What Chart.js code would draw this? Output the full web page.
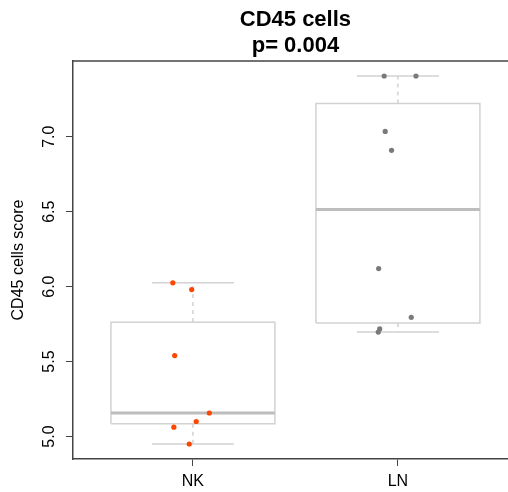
<!DOCTYPE html>
<html>
<head>
<meta charset="utf-8">
<script src="https://cdn.jsdelivr.net/npm/chart.js@4/dist/chart.umd.min.js"></script>
<style>
  html, body { margin: 0; padding: 0; background: #fff; overflow: hidden; }
  #wrap { width: 508px; height: 492px; }
</style>
</head>
<body>
<div id="wrap"><canvas id="chart"></canvas></div>
<script>
const titleLines = ["CD45 cells", "p= 0.004"];
const yLabel = "CD45 cells score";
const categories = ["NK", "LN"];
const catPos = [1, 2];
const yTicks = [5.0, 5.5, 6.0, 6.5, 7.0];

// box statistics per group
const whiskerLow = [4.95, 5.697];
const q1 = [5.085, 5.757];
const median = [5.157, 6.515];
const q3 = [5.763, 7.222];
const whiskerHigh = [6.025, 7.405];

// jittered points
const nkX = [0.902, 0.994, 0.911, 1.080, 1.016, 0.907, 0.982];
const nkY = [6.025, 5.98, 5.54, 5.157, 5.10, 5.062, 4.95];
const lnX = [1.933, 2.088, 1.938, 1.969, 1.906, 2.065, 1.911, 1.904];
const lnY = [7.405, 7.405, 7.035, 6.909, 6.12, 5.795, 5.718, 5.697];

const boxHalf = 0.4;
const capHalf = 0.2;
const boxColor = "#d2d2d2";
const medianColor = "#bdbdbd";
const axisColor = "#444444";
const fontFamily = "'Liberation Sans', Arial, Helvetica, sans-serif";

const datasets = [];

datasets.push({
  label: categories[0],
  data: nkX.map(function (x, i) { return { x: x, y: nkY[i] }; }),
  backgroundColor: "#ff4500",
  borderWidth: 0,
  pointRadius: 2.6,
  order: 0
});
datasets.push({
  label: categories[1],
  data: lnX.map(function (x, i) { return { x: x, y: lnY[i] }; }),
  backgroundColor: "#7a7a7a",
  borderWidth: 0,
  pointRadius: 2.6,
  order: 0
});

catPos.forEach(function (c, i) {
  const lineBase = { showLine: true, pointRadius: 0, fill: false, order: 2 };
  datasets.push(Object.assign({}, lineBase, {
    label: "box",
    data: [
      { x: c - boxHalf, y: q1[i] }, { x: c + boxHalf, y: q1[i] },
      { x: c + boxHalf, y: q3[i] }, { x: c - boxHalf, y: q3[i] },
      { x: c - boxHalf, y: q1[i] }
    ],
    borderColor: boxColor,
    borderWidth: 1.5
  }));
  datasets.push(Object.assign({}, lineBase, {
    label: "median",
    data: [{ x: c - boxHalf, y: median[i] }, { x: c + boxHalf, y: median[i] }],
    borderColor: medianColor,
    borderWidth: 3,
    order: 1
  }));
  datasets.push(Object.assign({}, lineBase, {
    label: "upper whisker",
    data: [{ x: c, y: q3[i] }, { x: c, y: whiskerHigh[i] }],
    borderColor: boxColor,
    borderWidth: 1.5,
    borderDash: [4, 4]
  }));
  datasets.push(Object.assign({}, lineBase, {
    label: "lower whisker",
    data: [{ x: c, y: q1[i] }, { x: c, y: whiskerLow[i] }],
    borderColor: boxColor,
    borderWidth: 1.5,
    borderDash: [4, 4]
  }));
  datasets.push(Object.assign({}, lineBase, {
    label: "caps",
    data: [{ x: c - capHalf, y: whiskerHigh[i] }, { x: c + capHalf, y: whiskerHigh[i] }],
    borderColor: boxColor,
    borderWidth: 1.5
  }));
  datasets.push(Object.assign({}, lineBase, {
    label: "caps",
    data: [{ x: c - capHalf, y: whiskerLow[i] }, { x: c + capHalf, y: whiskerLow[i] }],
    borderColor: boxColor,
    borderWidth: 1.5
  }));
});

const framePlugin = {
  id: "frame",
  afterDraw: function (chart) {
    const ctx = chart.ctx;
    const area = chart.chartArea;
    const xScale = chart.scales.x;
    ctx.save();
    ctx.strokeStyle = axisColor;
    ctx.lineWidth = 1.5;
    ctx.beginPath();
    ctx.moveTo(area.left, area.top);
    ctx.lineTo(area.right, area.top);
    ctx.stroke();
    ctx.fillStyle = "#000";
    ctx.font = "bold 22px " + fontFamily;
    ctx.textAlign = "center";
    ctx.textBaseline = "alphabetic";
    const cx = xScale.getPixelForValue(1.5);
    ctx.fillText(titleLines[0], cx, 26);
    ctx.fillText(titleLines[1], cx, 52);
    ctx.restore();
  }
};

new Chart(document.getElementById("chart"), {
  type: "scatter",
  data: { datasets: datasets },
  plugins: [framePlugin],
  options: {
    responsive: true,
    maintainAspectRatio: false,
    animation: false,
    layout: { autoPadding: false, padding: { top: 61, left: 0, right: 0, bottom: 0 } },
    plugins: {
      legend: { display: false },
      tooltip: { enabled: false }
    },
    scales: {
      x: {
        type: "linear",
        min: 0.415,
        max: 2.537,
        afterBuildTicks: function (scale) {
          scale.ticks = catPos.map(function (v) { return { value: v }; });
        },
        afterFit: function (scale) {
          scale.height = 33;
          scale.paddingLeft = 0;
          scale.paddingRight = 0;
        },
        grid: { display: true, drawOnChartArea: false, drawTicks: true, tickLength: 7, color: axisColor, lineWidth: 1 },
        border: { display: true, color: axisColor, width: 1.5 },
        ticks: {
          autoSkip: false,
          maxRotation: 0,
          padding: 6,
          color: "#000",
          font: { family: fontFamily, size: 16 },
          callback: function (value) {
            const i = catPos.indexOf(value);
            return i >= 0 ? categories[i] : "";
          }
        }
      },
      y: {
        type: "linear",
        min: 4.85,
        max: 7.505,
        afterBuildTicks: function (scale) {
          scale.ticks = yTicks.map(function (v) { return { value: v }; });
        },
        afterFit: function (scale) {
          scale.width = 73;
          scale.paddingTop = 0;
          scale.paddingBottom = 0;
        },
        grid: { display: true, drawOnChartArea: false, drawTicks: true, tickLength: 7, color: axisColor, lineWidth: 1 },
        border: { display: true, color: axisColor, width: 1.5 },
        title: {
          display: true,
          text: yLabel,
          color: "#000",
          font: { family: fontFamily, size: 16 },
          padding: { top: 9, bottom: 0 }
        },
        ticks: {
          autoSkip: false,
          minRotation: 90,
          maxRotation: 90,
          crossAlign: "center",
          padding: 5,
          color: "#000",
          font: { family: fontFamily, size: 16 },
          callback: function (value) { return Number(value).toFixed(1); }
        }
      }
    }
  }
});
</script>
</body>
</html>
